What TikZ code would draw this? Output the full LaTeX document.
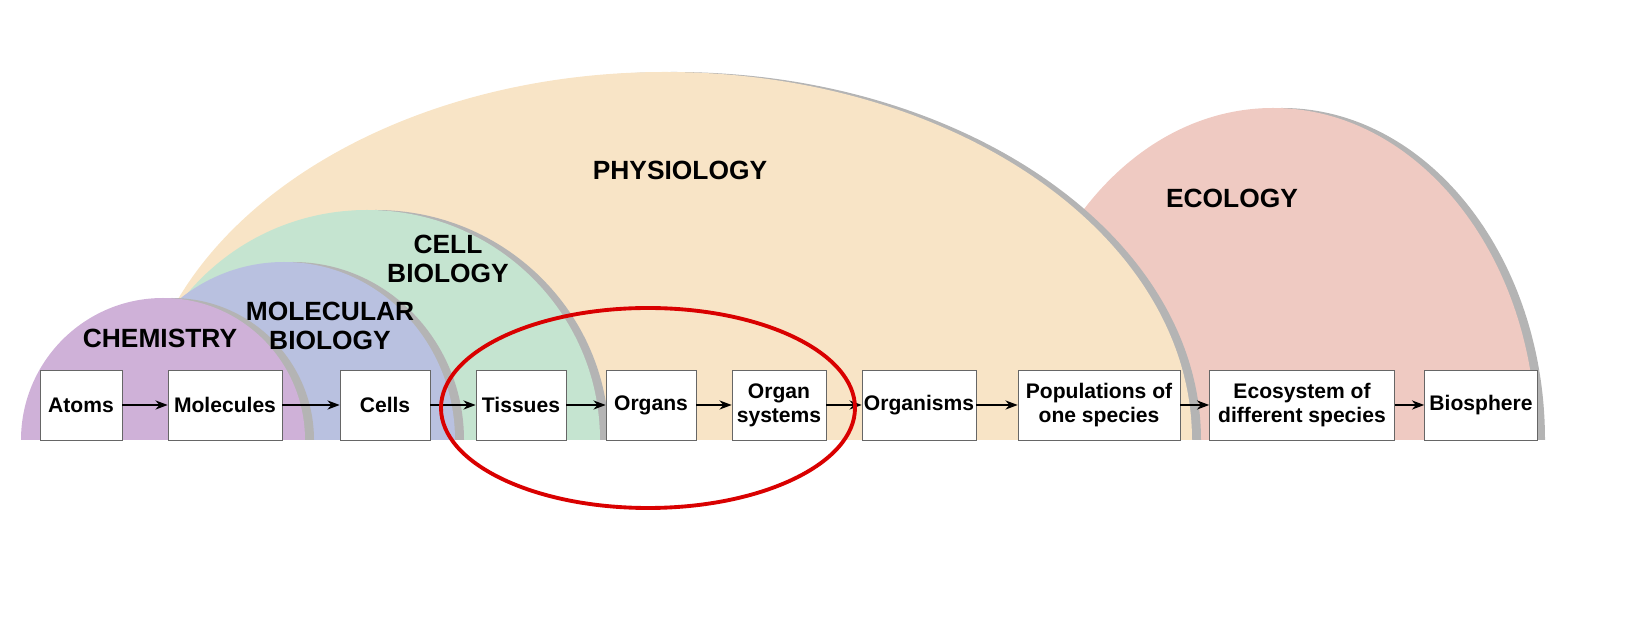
\documentclass[tikz,border=0pt]{standalone}
\usepackage{fontspec}
\setmainfont{Liberation Sans}
\usetikzlibrary{arrows.meta}
\definecolor{chemcol}{HTML}{CFB1D8}
\definecolor{molcol}{HTML}{B9C1E0}
\definecolor{cellcol}{HTML}{C5E4D0}
\definecolor{physcol}{HTML}{F8E4C6}
\definecolor{ecocol}{HTML}{EFCAC2}
\definecolor{shadecol}{HTML}{B4B4B4}
\newcommand{\dome}[4]{% centre x, x radius, y radius, colour
  \fill[shadecol] (#1+#2+9,182) arc[start angle=0,end angle=180,x radius=#2,y radius=#3] -- cycle;
  \fill[#4] (#1+#2,182) arc[start angle=0,end angle=180,x radius=#2,y radius=#3] -- cycle;}
\begin{document}
\begin{tikzpicture}[x=0.02cm,y=0.02cm,font=\bfseries]
\tikzstyle{box}=[draw=gray!80!black, fill=white, minimum height=1.4cm, align=center, font=\bfseries\fontsize{12}{13.5}\selectfont, inner sep=1pt]
\tikzstyle{field}=[align=center, font=\bfseries\fontsize{15}{16.5}\selectfont]
\useasboundingbox (0,0) rectangle (1644,622);

\dome{1273}{263}{332}{ecocol}
\dome{665}{527}{368}{physcol}
\dome{367}{233}{230}{cellcol}
\dome{284}{171}{178}{molcol}
\dome{163}{142}{142}{chemcol}

\node[field] (phys) at (680,452) {PHYSIOLOGY};
\node[field] (eco) at (1232,424) {ECOLOGY};
\node[field] (cellb) at (448,363) {CELL\\BIOLOGY};
\node[field] (molb) at (330,296) {MOLECULAR\\BIOLOGY};
\node[field] (chem) at (160,284) {CHEMISTRY};

\node[box, minimum width=1.64cm] (atoms) at (81,217) {Atoms};
\node[box, minimum width=2.28cm] (mol) at (225,217) {Molecules};
\node[box, minimum width=1.8cm] (cells) at (385,217) {Cells};
\node[box, minimum width=1.8cm] (tis) at (521,217) {Tissues};
\node[box, minimum width=1.8cm] (org) at (651,217) {Organs};
\node[box, minimum width=1.88cm] (orgsys) at (779,217) {Organ\\systems};
\node[box, minimum width=2.28cm] (orgm) at (919,217) {Organisms};
\node[box, minimum width=3.24cm] (pop) at (1099,217) {Populations of\\one species};
\node[box, minimum width=3.7cm] (ecos) at (1302,217) {Ecosystem of\\different species};
\node[box, minimum width=2.26cm] (bio) at (1481,217) {Biosphere};

\foreach \a/\b in {atoms/mol, mol/cells, cells/tis, tis/org, org/orgsys, orgsys/orgm, orgm/pop, pop/ecos, ecos/bio}
  \draw[-{Stealth[length=7pt]}, thick] (\a) -- (\b);

\draw[red!85!black, line width=2.2pt] (648,214) ellipse[x radius=207, y radius=100];
\end{tikzpicture}
\end{document}
